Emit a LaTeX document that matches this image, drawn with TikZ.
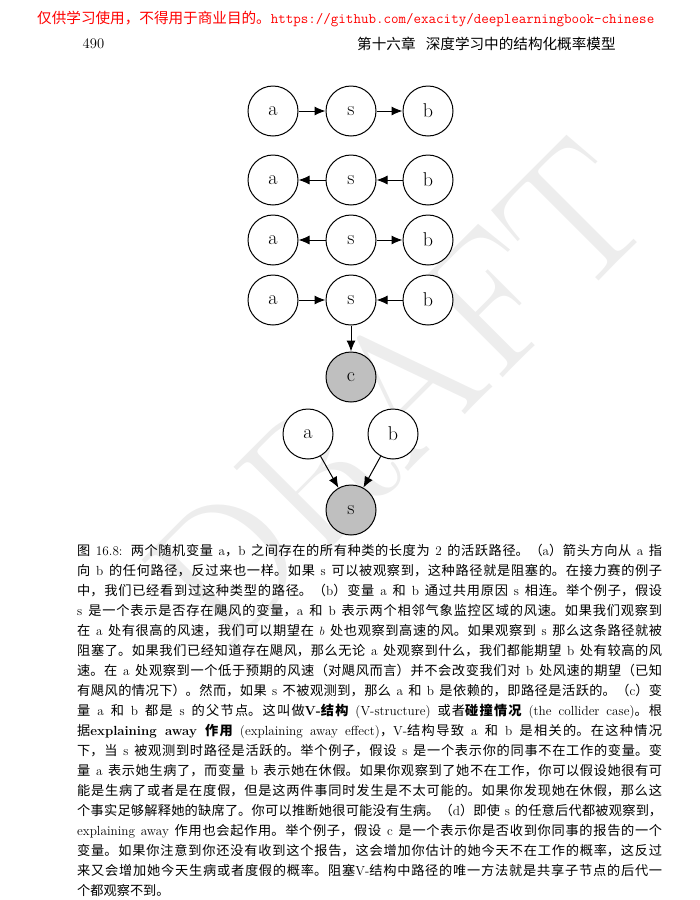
\documentclass[tikz,border=0pt]{standalone}
\usepackage{fontspec}
\newfontfamily\zhfont{Noto Sans CJK SC}
\usetikzlibrary{arrows.meta}

% Chinese runs switch to the CJK font by themselves
\newXeTeXintercharclass\zhclass
\newcount\zhcnt
\newcommand\setzhrange[2]{%
  \zhcnt=#1\relax
  \loop
    \XeTeXcharclass\zhcnt=\zhclass
  \ifnum\zhcnt<#2\relax
    \advance\zhcnt by 1
  \repeat}
\setzhrange{"3000}{"303F}
\setzhrange{"4E00}{"9FFF}
\setzhrange{"FF00}{"FFEF}
\XeTeXinterchartoks 0 \zhclass = {\begingroup\zhfont}
\XeTeXinterchartoks 4095 \zhclass = {\begingroup\zhfont}
\XeTeXinterchartoks \zhclass 0 = {\endgroup}
\XeTeXinterchartoks \zhclass 4095 = {\endgroup}
\XeTeXinterchartokenstate=1
\XeTeXlinebreaklocale "zh"
\XeTeXlinebreakskip=0pt plus 1pt
\XeTeXlinebreakpenalty=10000

\begin{document}
\begin{tikzpicture}[x=1pt,y=-1pt,
  rv/.style={circle,draw,line width=1pt,minimum size=50pt,inner sep=0pt,
    fill=white,font=\fontsize{20}{22}\selectfont},
  rvobs/.style={rv,fill=black!25},
  arr/.style={-{Latex[length=11pt,width=9pt]},line width=1pt},
  head/.style={anchor=west,inner sep=0pt,font=\fontsize{14.6}{16}\selectfont}]
% Page
\useasboundingbox (0,0) rectangle (700,900);
% Watermark
\node[rotate=45,text=black!7,font=\fontsize{185}{185}\selectfont] (draft) at (398,392) {DRAFT};
% Header
\node[head,text=red] (notice) at (37,19) {仅供学习使用，不得用于商业目的。\texttt{https://github.com/exacity/deeplearningbook-chinese}};
\node[head] (pageno) at (82.5,44) {490};
\node[head] (chapter) at (357,44) {第十六章\hspace{0.7em}深度学习中的结构化概率模型};
% (a) a -> s -> b
\node[rv] (a1) at (273,111) {a};
\node[rv] (s1) at (351,111) {s};
\node[rv] (b1) at (428,111) {b};
\draw[arr] (a1) -- (s1);
\draw[arr] (s1) -- (b1);
% a <- s <- b
\node[rv] (a2) at (273,180) {a};
\node[rv] (s2) at (351,180) {s};
\node[rv] (b2) at (428,180) {b};
\draw[arr] (s2) -- (a2);
\draw[arr] (b2) -- (s2);
% (b) a <- s -> b
\node[rv] (a3) at (273,240) {a};
\node[rv] (s3) at (351,240) {s};
\node[rv] (b3) at (428,240) {b};
\draw[arr] (s3) -- (a3);
\draw[arr] (s3) -- (b3);
% (d) a -> s <- b, s -> c
\node[rv] (a4) at (273,300) {a};
\node[rv] (s4) at (351,300) {s};
\node[rv] (b4) at (428,300) {b};
\node[rvobs] (c4) at (351,377) {c};
\draw[arr] (a4) -- (s4);
\draw[arr] (b4) -- (s4);
\draw[arr] (s4) -- (c4);
% (c) a -> s <- b
\node[rv] (a5) at (308,434) {a};
\node[rv] (b5) at (393,434) {b};
\node[rvobs] (s5) at (351,510) {s};
\draw[arr] (a5) -- (s5);
\draw[arr] (b5) -- (s5);
% Caption
\node[anchor=north west,inner sep=0pt,text width=585pt,align=justify,
  font=\fontsize{13.2}{20}\selectfont] (caption) at (77,544) {%
图 16.8: 两个随机变量 a，b 之间存在的所有种类的长度为 2 的活跃路径。（a）箭头方向从 a 指\linebreak
向 b 的任何路径，反过来也一样。如果 s 可以被观察到，这种路径就是阻塞的。在接力赛的例子\linebreak
中，我们已经看到过这种类型的路径。（b）变量 a 和 b 通过共用原因 s 相连。举个例子，假设\linebreak
s 是一个表示是否存在飓风的变量，a 和 b 表示两个相邻气象监控区域的风速。如果我们观察到\linebreak
在 a 处有很高的风速，我们可以期望在 $b$ 处也观察到高速的风。如果观察到 s 那么这条路径就被\linebreak
阻塞了。如果我们已经知道存在飓风，那么无论 a 处观察到什么，我们都能期望 b 处有较高的风\linebreak
速。在 a 处观察到一个低于预期的风速（对飓风而言）并不会改变我们对 b 处风速的期望（已知\linebreak
有飓风的情况下）。然而，如果 s 不被观测到，那么 a 和 b 是依赖的，即路径是活跃的。（c）变\linebreak
量 a 和 b 都是 s 的父节点。这叫做\textbf{V-结构} (V-structure) 或者\textbf{碰撞情况} (the collider case)。根\linebreak
据\textbf{explaining away 作用} (explaining away effect)，V-结构导致 a 和 b 是相关的。在这种情况\linebreak
下，当 s 被观测到时路径是活跃的。举个例子，假设 s 是一个表示你的同事不在工作的变量。变\linebreak
量 a 表示她生病了，而变量 b 表示她在休假。如果你观察到了她不在工作，你可以假设她很有可\linebreak
能是生病了或者是在度假，但是这两件事同时发生是不太可能的。如果你发现她在休假，那么这\linebreak
个事实足够解释她的缺席了。你可以推断她很可能没有生病。（d）即使 s 的任意后代都被观察到，\linebreak
explaining away 作用也会起作用。举个例子，假设 c 是一个表示你是否收到你同事的报告的一个\linebreak
变量。如果你注意到你还没有收到这个报告，这会增加你估计的她今天不在工作的概率，这反过\linebreak
来又会增加她今天生病或者度假的概率。阻塞V-结构中路径的唯一方法就是共享子节点的后代一\linebreak
个都观察不到。};
\end{tikzpicture}
\end{document}
